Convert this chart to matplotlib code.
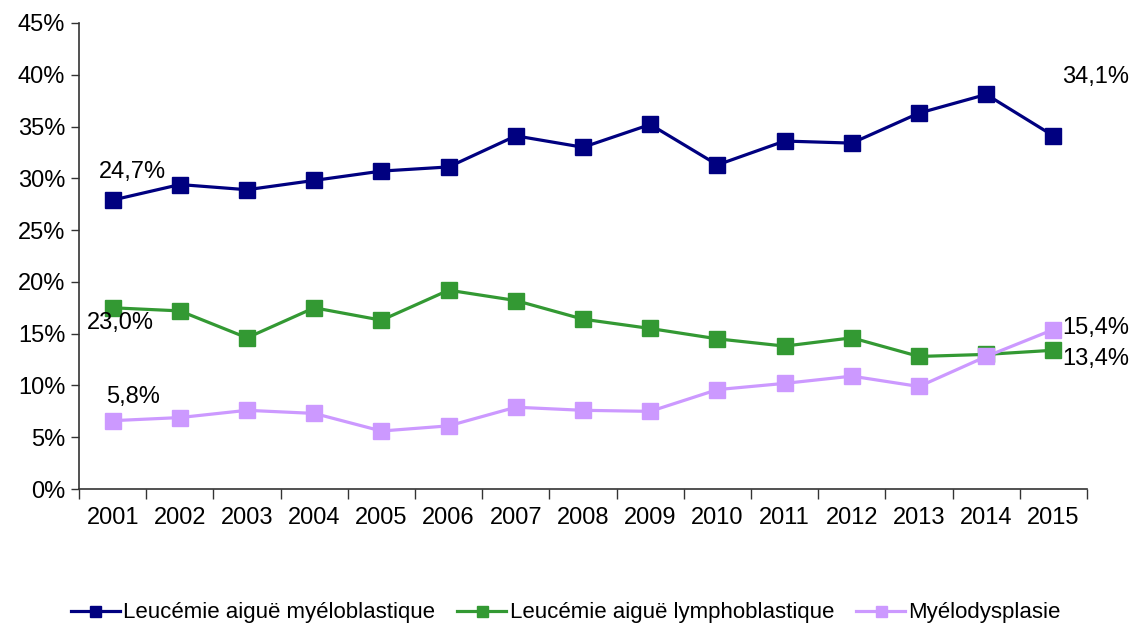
import matplotlib
matplotlib.use("Agg")
import matplotlib.pyplot as plt
from matplotlib.ticker import FixedLocator, PercentFormatter

plt.rcParams['font.family'] = ['Liberation Sans', 'DejaVu Sans']

years = ["2001", "2002", "2003", "2004", "2005", "2006", "2007", "2008",
         "2009", "2010", "2011", "2012", "2013", "2014", "2015"]

lam = [27.9, 29.4, 28.9, 29.8, 30.7, 31.1, 34.1, 33.0, 35.2, 31.3, 33.6, 33.4, 36.3, 38.1, 34.1]
lal = [17.5, 17.2, 14.6, 17.5, 16.3, 19.2, 18.2, 16.4, 15.5, 14.5, 13.8, 14.6, 12.8, 13.0, 13.4]
mds = [6.6, 6.9, 7.6, 7.3, 5.6, 6.1, 7.9, 7.6, 7.5, 9.6, 10.2, 10.9, 9.9, 12.8, 15.4]

series_names = ["Leucémie aiguë myéloblastique", "Leucémie aiguë lymphoblastique", "Myélodysplasie"]
series_colors = ["#000080", "#339933", "#CC99FF"]

# free-standing value annotations: (text, x, y, horizontal alignment)
notes_text = ["24,7%", "23,0%", "5,8%", "34,1%", "15,4%", "13,4%"]
notes_x = [0.3, 0.12, 0.3, 14.62, 14.13, 14.13]
notes_y = [30.6, 16.0, 8.9, 39.8, 15.5, 12.6]
notes_ha = ["center", "center", "center", "center", "left", "left"]

fig = plt.figure(figsize=(11.34, 6.28), dpi=100)
ax = fig.add_axes([0.0697, 0.2213, 0.8889, 0.7421])

x = list(range(len(years)))
for vals, name, col in zip([lam, lal, mds], series_names, series_colors):
    ax.plot(x, vals, color=col, lw=2.3, marker="s", markersize=11,
            markeredgecolor=col, label=name)

for t, tx, ty, ha in zip(notes_text, notes_x, notes_y, notes_ha):
    ax.text(tx, ty, t, ha=ha, va="center", fontsize=17, color="black")

ax.set_xlim(-0.5, len(years) - 0.5)
ax.set_ylim(0, 45)
ax.set_yticks(range(0, 46, 5))
ax.yaxis.set_major_formatter(PercentFormatter(decimals=0))
ax.set_xticks(x)
ax.set_xticklabels(years)
ax.xaxis.set_minor_locator(FixedLocator([i - 0.5 for i in range(len(years) + 1)]))
ax.tick_params(axis="x", which="major", length=0, pad=13, labelsize=17)
ax.tick_params(axis="x", which="minor", length=7, width=1, color="#333333", direction="out")
ax.tick_params(axis="y", which="major", length=6, width=1, color="#333333", labelsize=17, pad=4)

for s in ["top", "right"]:
    ax.spines[s].set_visible(False)
for s in ["left", "bottom"]:
    ax.spines[s].set_color("#333333")
    ax.spines[s].set_linewidth(1.2)

fig.legend(loc="center", bbox_to_anchor=(0.499, 0.024), ncol=3, frameon=False,
           fontsize=16, handlelength=2.2, columnspacing=1.0, handletextpad=0.15,
           markerscale=0.72)

fig.savefig("out.png", dpi=100)
